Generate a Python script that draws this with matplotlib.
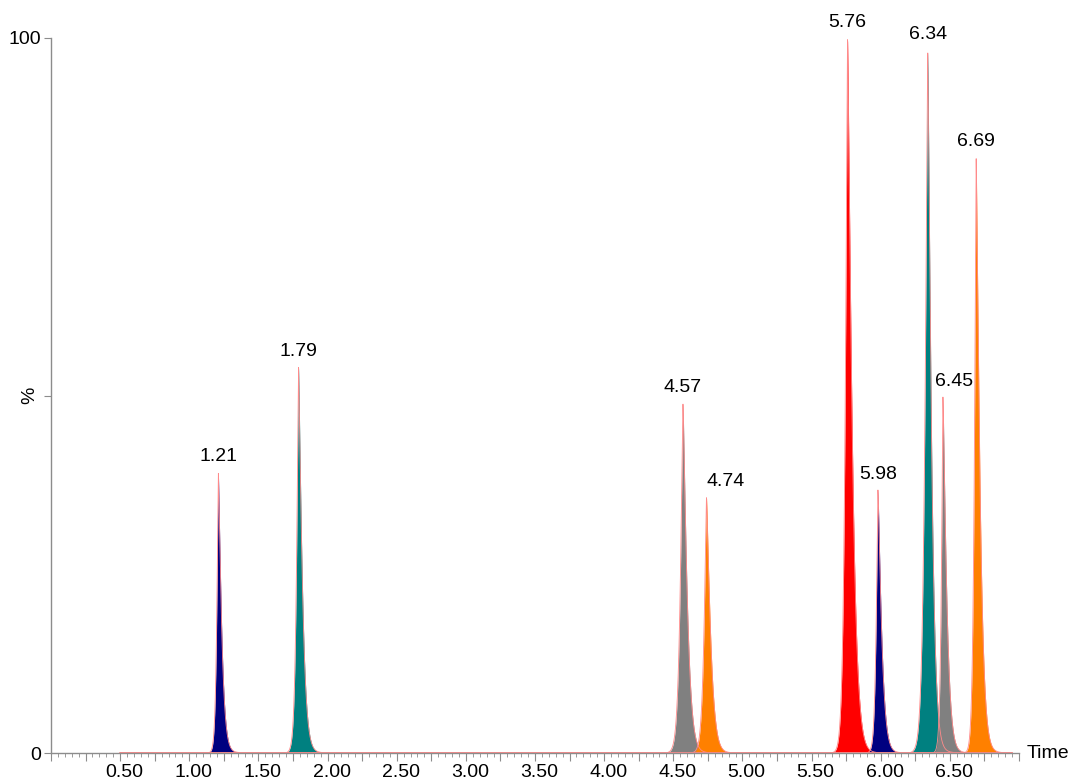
"""Chromatogram overlay: MRM traces with retention-time labels."""

import matplotlib

matplotlib.use("Agg")
import matplotlib.pyplot as plt
import numpy as np
from matplotlib.ticker import MultipleLocator

plt.rcParams["font.family"] = ["Liberation Sans", "DejaVu Sans"]

# peak table
retention_times = [1.21, 1.79, 4.57, 4.74, 5.76, 5.98, 6.34, 6.45, 6.69]
peak_heights = [39.3, 54.0, 49.0, 35.8, 100.0, 36.8, 98.3, 49.8, 83.4]
peak_labels = ["1.21", "1.79", "4.57", "4.74", "5.76", "5.98", "6.34", "6.45", "6.69"]
peak_colors = ["#000080", "#008080", "#808080", "#ff8000", "#ff0000",
               "#000080", "#008080", "#808080", "#ff8000"]
# rise / tail widths (min) of each peak
sigma_left = [0.015, 0.019, 0.025, 0.023, 0.022, 0.017, 0.026, 0.015, 0.017]
sigma_right = [0.028, 0.032, 0.036, 0.036, 0.040, 0.032, 0.032, 0.032, 0.033]
# horizontal nudge of the label (points) where peaks crowd
label_shift = [0, 0, 0, 14, 0, 0, 0, 8, 0]

x_ticklabels = ["0.50", "1.00", "1.50", "2.00", "2.50", "3.00",
                "3.50", "4.00", "4.50", "5.00", "5.50", "6.00", "6.50"]

AXIS_GREY = "#8c8c8c"
OUTLINE = "#ff8a8a"


def peak_trace(t, rt, h, sl, sr):
    dt = t - rt
    s = np.where(dt < 0, sl, sr)
    core = np.exp(-np.abs(dt / s) ** 1.25)
    tail = np.where(dt > 0, 0.03 * np.exp(-dt / 0.05), 0.0) * (1 - core)
    return h * (core + tail)


fig = plt.figure(figsize=(10.68, 7.81), dpi=100)
ax = fig.add_axes([51 / 1068, 1 - 753 / 781, 968 / 1068, 715 / 781])

t = np.linspace(0.5, 6.95, 8000)
for rt, h, lab, col, sl, sr, dx in zip(retention_times, peak_heights, peak_labels,
                                       peak_colors, sigma_left, sigma_right, label_shift):
    y = peak_trace(t, rt, h, sl, sr)
    ax.fill_between(t, 0, y, color=col, lw=0)
    ax.plot(t, y, color=OUTLINE, lw=0.6)
    ax.annotate(lab, (rt, h), xytext=(dx, 5), textcoords="offset points",
                ha="center", va="bottom", fontsize=14)

ax.set_xlim(0, 7.0)
ax.set_ylim(0, 100)

ax.xaxis.set_major_locator(MultipleLocator(0.25))
ax.xaxis.set_minor_locator(MultipleLocator(0.05))
ax.set_xticklabels([])
label_pos = [0.5 * (i + 1) for i in range(len(x_ticklabels))]
for pos, txt in zip(label_pos, x_ticklabels):
    ax.text(pos + 0.03, -0.027, txt, transform=ax.get_xaxis_transform(),
            ha="center", va="center", fontsize=14)

ax.set_yticks([0, 50, 100])
ax.set_yticklabels(["0", "", "100"], fontsize=14)
fig.text(30 / 1068, 1 - 395 / 781, "%", rotation=90, ha="center", va="center",
         fontsize=14)

for side in ("top", "right"):
    ax.spines[side].set_visible(False)
for side in ("left", "bottom"):
    ax.spines[side].set_color(AXIS_GREY)
    ax.spines[side].set_linewidth(1.0)

ax.tick_params(axis="x", which="major", length=6, color=AXIS_GREY, direction="out")
ax.tick_params(axis="x", which="minor", length=3, color=AXIS_GREY, direction="out")
ax.tick_params(axis="y", which="major", length=5, color=AXIS_GREY, direction="out",
               pad=2)

ax.text(1.008, 0, "Time", transform=ax.transAxes, ha="left", va="center", fontsize=14)

fig.savefig("out.png", dpi=100)
